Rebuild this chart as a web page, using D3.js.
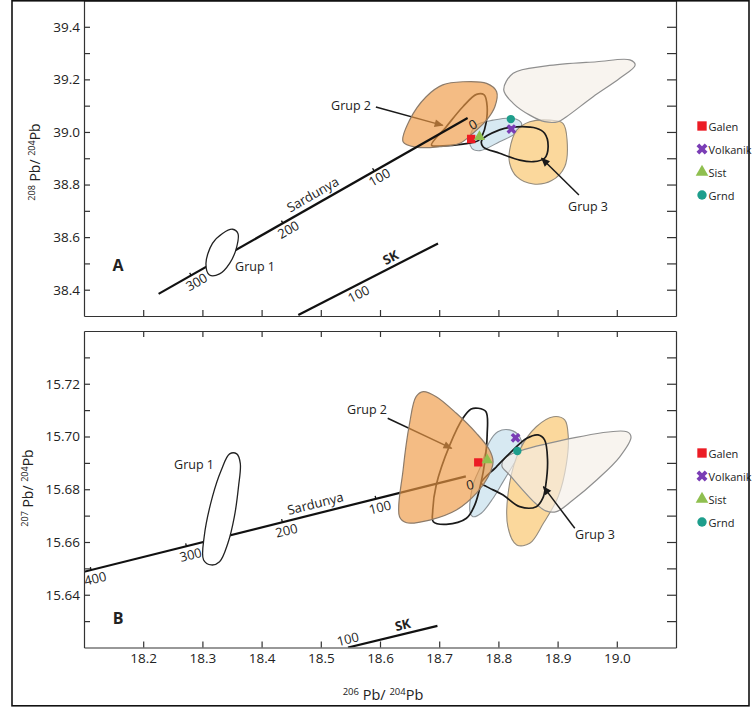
<!DOCTYPE html>
<html><head><meta charset="utf-8">
<script src="https://cdn.jsdelivr.net/npm/d3@7"></script>
<style>
html,body{margin:0;padding:0;background:#fff;}
text{font-family:"Open Sans","Noto Sans",sans-serif;fill:#222;}
</style></head><body>
<svg id="chart" width="754" height="709"></svg>
<script>
// ---------------- DATA ----------------
const xTicks = [18.2, 18.3, 18.4, 18.5, 18.6, 18.7, 18.8, 18.9, 19.0];
const yTicksA = [38.4, 38.5, 38.6, 38.7, 38.8, 38.9, 39.0, 39.1, 39.2, 39.3, 39.4];
const yLabelsA = [38.4, 38.6, 38.8, 39.0, 39.2, 39.4];
const yTicksB = [15.63, 15.64, 15.65, 15.66, 15.67, 15.68, 15.69, 15.70, 15.71, 15.72, 15.73];
const yLabelsB = [15.64, 15.66, 15.68, 15.70, 15.72];

const seriesNames = ["Galen", "Volkanik", "Sist", "Grnd"];
const sampleXA = [18.754, 18.822, 18.768, 18.821];
const sampleYA = [38.973, 39.011, 38.982, 39.049];
const sampleXB = [18.766, 18.829, 18.781, 18.832];
const sampleYB = [15.6902, 15.6995, 15.6911, 15.6945];

// Sardunya growth curve (age labels in Ma)
const sardAgesA = [300, 200, 100, 0];
const sardXA = [18.281, 18.436, 18.590, 18.748];
const sardYA = [38.454, 38.653, 38.852, 39.053];
const sardEndsA = [[18.226, 38.384], [18.748, 39.053]];
const sardAgesB = [400, 300, 200, 100, 0];
const sardXB = [18.112, 18.273, 18.435, 18.593, 18.745];
const sardYB = [15.6494, 15.6584, 15.6676, 15.6764, 15.6849];
const sardEndsB = [[18.10, 15.6487], [18.745, 15.6849]];
// SK growth curve
const skEndsA = [[18.462, 38.304], [18.698, 38.576]];
const skEndsB = [[18.546, 15.6200], [18.697, 15.6282]];

// Fields, panel A (208/204 vs 206/204)
const grup1A = [[18.306,38.500],[18.317,38.576],[18.334,38.614],[18.351,38.630],[18.360,38.614],[18.358,38.563],[18.346,38.500],[18.329,38.460],[18.312,38.456]];
const grup2FieldA = [[18.639,38.963],[18.650,39.045],[18.678,39.134],[18.706,39.179],[18.740,39.191],[18.780,39.185],[18.797,39.153],[18.794,39.096],[18.780,39.045],[18.757,38.995],[18.735,38.957],[18.701,38.944],[18.661,38.942]];
const grup2LoopA = [[18.687,38.950],[18.712,39.020],[18.740,39.096],[18.763,39.143],[18.776,39.141],[18.781,39.096],[18.779,39.033],[18.773,38.988],[18.766,38.967],[18.740,38.954],[18.706,38.947]];
const blueA = [[18.752,38.982],[18.763,39.026],[18.791,39.045],[18.825,39.052],[18.839,39.033],[18.833,39.001],[18.802,38.963],[18.769,38.929],[18.755,38.938]];
const beigeA = [[18.809,39.160],[18.825,39.223],[18.881,39.251],[18.966,39.267],[19.022,39.274],[19.031,39.255],[19.005,39.204],[18.960,39.134],[18.915,39.058],[18.901,39.039],[18.878,39.039],[18.853,39.064],[18.825,39.109]];
const grup3FieldA = [[18.819,38.931],[18.831,39.007],[18.853,39.039],[18.887,39.045],[18.909,39.033],[18.916,38.969],[18.912,38.868],[18.890,38.815],[18.859,38.802],[18.831,38.830],[18.819,38.881]];
const grup3LoopA = [[18.772,38.969],[18.802,39.008],[18.822,39.018],[18.864,39.014],[18.878,38.995],[18.884,38.944],[18.878,38.900],[18.859,38.887],[18.836,38.893],[18.802,38.919],[18.774,38.944]];

// Fields, panel B (207/204 vs 206/204)
const grup1B = [[18.302,15.6532],[18.303,15.6620],[18.317,15.6772],[18.332,15.6873],[18.346,15.6934],[18.358,15.6934],[18.364,15.6898],[18.361,15.6810],[18.354,15.6696],[18.343,15.6595],[18.329,15.6525],[18.315,15.6513]];
const grup2FieldB = [[18.633,15.6696],[18.639,15.6873],[18.650,15.7050],[18.661,15.7151],[18.673,15.7170],[18.695,15.7151],[18.729,15.7088],[18.763,15.7012],[18.785,15.6949],[18.791,15.6904],[18.783,15.6848],[18.763,15.6785],[18.729,15.6721],[18.684,15.6683],[18.645,15.6673]];
const grup2LoopB = [[18.766,15.7107],[18.779,15.7094],[18.781,15.7006],[18.777,15.6904],[18.771,15.6829],[18.760,15.6740],[18.746,15.6690],[18.712,15.6667],[18.690,15.6677],[18.689,15.6715],[18.695,15.6816],[18.718,15.6968],[18.740,15.7069],[18.754,15.7104]];
const blueB = [[18.752,15.6715],[18.757,15.6816],[18.771,15.6892],[18.785,15.6980],[18.799,15.7018],[18.819,15.7025],[18.836,15.6999],[18.839,15.6942],[18.825,15.6892],[18.808,15.6829],[18.791,15.6766],[18.771,15.6709],[18.757,15.6696]];
const beigeB = [[18.811,15.6918],[18.836,15.6945],[19.017,15.7018],[19.024,15.6998],[19.005,15.6923],[18.966,15.6835],[18.926,15.6759],[18.898,15.6715],[18.880,15.6718],[18.862,15.6748],[18.819,15.6854],[18.806,15.6888]];
const grup3FieldB = [[18.816,15.6658],[18.819,15.6823],[18.836,15.6949],[18.864,15.7037],[18.893,15.7075],[18.912,15.7063],[18.918,15.6999],[18.915,15.6898],[18.901,15.6772],[18.876,15.6671],[18.853,15.6595],[18.831,15.6589]];
const grup3LoopB = [[18.771,15.6823],[18.797,15.6886],[18.819,15.6936],[18.848,15.6993],[18.867,15.7006],[18.878,15.6987],[18.883,15.6911],[18.880,15.6816],[18.875,15.6766],[18.864,15.6734],[18.836,15.6734],[18.808,15.6778],[18.780,15.6810]];

// annotation arrows [tail, head]
const arrowsA = [[[18.593,39.095],[18.706,39.025]], [[18.936,38.760],[18.873,38.900]]];
const arrowsB = [[[18.613,15.7069],[18.721,15.6955]], [[18.929,15.6652],[18.876,15.6810]]];

// ---------------- DRAW ----------------
const svg = d3.select("#chart");
const defs = svg.append("defs");
defs.append("marker").attr("id","ah").attr("viewBox","0 -5 10 10").attr("refX",9).attr("refY",0)
  .attr("markerWidth",10).attr("markerHeight",9).attr("markerUnits","userSpaceOnUse").attr("orient","auto")
  .append("path").attr("d","M0,-4.2L10,0L0,4.2Z").attr("fill","#1a1a1a");

const x = d3.scaleLinear().domain([18.1, 19.1]).range([84, 676]);

const colors = {Galen:"#ec1c24", Volkanik:"#7a3db5", Sist:"#8fbf4f", Grnd:"#1e9e8c"};
const symTypes = {Galen:d3.symbolSquare, Volkanik:d3.symbolCross, Sist:d3.symbolTriangle, Grnd:d3.symbolCircle};
const symSizes = {Galen:70, Volkanik:60, Sist:55, Grnd:55};
function drawSymbol(g, name, px, py, scale) {
  g.append("path")
    .attr("d", d3.symbol().type(symTypes[name]).size(symSizes[name]*scale)())
    .attr("transform", `translate(${px},${py})` + (name==="Volkanik" ? " rotate(45)" : ""))
    .attr("fill", colors[name]);
}

function drawPanel(c) {
  const y = c.y;
  const [x0, x1] = x.range();
  const [yb, yt] = y.range();
  const g = svg.append("g");
  defs.append("clipPath").attr("id","clip"+c.id).append("rect")
    .attr("x",x0).attr("y",yt).attr("width",x1-x0).attr("height",yb-yt);
  const plot = g.append("g").attr("clip-path",`url(#clip${c.id})`);
  const blob = d3.line().x(d=>x(d[0])).y(d=>y(d[1])).curve(d3.curveCatmullRomClosed.alpha(0.5));
  const seg = d3.line().x(d=>x(d[0])).y(d=>y(d[1]));

  plot.append("path").attr("d", blob(c.blue)).attr("fill","#d7e9f2").attr("stroke","#8d9499").attr("stroke-width",1.1);
  plot.append("path").attr("d", blob(c.grup3Field)).attr("fill","#fbd491").attr("fill-opacity",0.9).attr("stroke","#948b7c").attr("stroke-width",1.1);
  plot.append("path").attr("d", blob(c.beige)).attr("fill","#f4eee6").attr("fill-opacity",0.65).attr("stroke","#8f8f8f").attr("stroke-width",1.2);
  plot.append("path").attr("d", blob(c.grup3Loop)).attr("fill","none").attr("stroke","#1a1a1a").attr("stroke-width",1.7);
  plot.append("path").attr("d", blob(c.grup2Loop)).attr("fill","none").attr("stroke","#1a1a1a").attr("stroke-width",1.7);
  c.arrows.forEach(a => {
    plot.append("path").attr("d", seg(a)).attr("stroke","#1a1a1a").attr("stroke-width",1.5).attr("fill","none").attr("marker-end","url(#ah)");
  });

  const drawSard = () => plot.append("path").attr("d", seg(c.sardEnds)).attr("stroke","#111").attr("stroke-width",2.2).attr("fill","none");
  if (!c.sardAbove) drawSard();
  plot.append("path").attr("d", blob(c.grup2Field)).attr("fill","#ee9a45").attr("fill-opacity",0.66).attr("stroke","#8c7b6a").attr("stroke-width",1.2);
  if (c.sardAbove) drawSard();
  plot.append("path").attr("d", seg(c.skEnds)).attr("stroke","#111").attr("stroke-width",2.2).attr("fill","none");
  plot.append("path").attr("d", blob(c.grup1)).attr("fill","#fff").attr("stroke","#222").attr("stroke-width",1.3);

  // Sardunya ticks & labels
  const [[ax,ay],[bx,by]] = c.sardEnds;
  const pax = x(ax), pay = y(ay), pbx = x(bx), pby = y(by);
  const L = Math.hypot(pbx-pax, pby-pay);
  const ux = (pbx-pax)/L, uy = (pby-pay)/L, nx = -uy, ny = ux;
  const ang = Math.atan2(pby-pay, pbx-pax) * 180 / Math.PI;
  c.sardAges.forEach((age, i) => {
    const px = x(c.sardX[i]), py = y(c.sardY[i]);
    if (age !== 0) plot.append("line").attr("x1",px).attr("y1",py).attr("x2",px-nx*3).attr("y2",py-ny*3).attr("stroke","#111").attr("stroke-width",1.3);
    const lx = px + ux*c.ageAlong + nx*c.ageOff, ly = py + uy*c.ageAlong + ny*c.ageOff;
    g.append("text").attr("transform",`translate(${lx},${ly}) rotate(${ang})`).attr("text-anchor","middle")
      .attr("dominant-baseline","central").attr("font-size",13).text(age);
  });
  // Sardunya name
  const onLine = (ends, xv) => ends[0][1] + (ends[1][1]-ends[0][1])*(xv-ends[0][0])/(ends[1][0]-ends[0][0]);
  {
    const px = x(c.sardNameX), py = y(onLine(c.sardEnds, c.sardNameX));
    g.append("text").attr("transform",`translate(${px-nx*10.5},${py-ny*10.5}) rotate(${ang})`).attr("text-anchor","middle")
      .attr("dominant-baseline","central").attr("font-size",13).text("Sardunya");
  }
  // SK labels
  {
    const [[sx0,sy0],[sx1,sy1]] = c.skEnds;
    const ang2 = Math.atan2(y(sy1)-y(sy0), x(sx1)-x(sx0)) * 180/Math.PI;
    const L2 = Math.hypot(x(sx1)-x(sx0), y(sy1)-y(sy0));
    const vx = (x(sx1)-x(sx0))/L2, vy = (y(sy1)-y(sy0))/L2, mx = -vy, my = vx;
    const p1x = x(c.skNameX), p1y = y(onLine(c.skEnds, c.skNameX));
    g.append("text").attr("transform",`translate(${p1x-mx*9.5},${p1y-my*9.5}) rotate(${ang2})`).attr("text-anchor","middle")
      .attr("dominant-baseline","central").attr("font-size",13).attr("font-weight","bold").text("SK");
    const p2x = x(c.sk100X), p2y = y(onLine(c.skEnds, c.sk100X));
    const s = c.sk100Below ? 1 : -1;
    g.append("text").attr("transform",`translate(${p2x+s*mx*8.5},${p2y+s*my*8.5}) rotate(${ang2})`).attr("text-anchor","middle")
      .attr("dominant-baseline","central").attr("font-size",13).text("100");
  }

  // samples
  seriesNames.forEach((n,i) => drawSymbol(plot, n, x(c.sampleX[i]), y(c.sampleY[i]), 1));

  // group labels
  c.groupLabels.forEach(l => g.append("text").attr("x",l[1]).attr("y",l[2]).attr("text-anchor","middle")
    .attr("dominant-baseline","central").attr("font-size",12.5).text(l[0]));
  g.append("text").attr("x",c.panelPos[0]).attr("y",c.panelPos[1]).attr("text-anchor","middle").attr("dominant-baseline","central")
    .attr("font-size",16).attr("font-weight","bold").attr("font-family","Liberation Sans, Arial, sans-serif").text(c.id);

  // axes
  const fmt = d3.format(c.fmt);
  const isLab = d => c.yLabels.some(v => Math.abs(v-d) < 1e-6);
  const ax1 = g.append("g").attr("transform",`translate(${x0},0)`)
    .call(d3.axisLeft(y).tickValues(c.yTicks).tickSize(-6).tickSizeOuter(0).tickPadding(4).tickFormat(d => isLab(d) ? fmt(d) : ""));
  const ax2 = g.append("g").attr("transform",`translate(${x1},0)`)
    .call(d3.axisRight(y).tickValues(c.yTicks).tickSize(-9).tickSizeOuter(0).tickFormat(""));
  const ax3 = g.append("g").attr("transform",`translate(0,${yb})`)
    .call(d3.axisBottom(x).tickValues(xTicks).tickSize(-6).tickSizeOuter(0).tickPadding(6).tickFormat(c.xLabels ? d3.format(".1f") : ""));
  const ax4 = g.append("g").attr("transform",`translate(0,${yt})`)
    .call(d3.axisTop(x).tickValues(c.topTicks ? xTicks : []).tickSize(-6).tickSizeOuter(0).tickFormat(""));
  [ax1,ax2,ax3,ax4].forEach(a => {
    a.selectAll("path,line").attr("stroke","#333").attr("stroke-width",1.2);
    a.selectAll("text").attr("font-size",13.5).attr("fill","#333").attr("font-family","Open Sans, sans-serif");
  });

  // axis title
  const t = g.append("text").attr("transform",`translate(${c.titlePos[0]},${c.titlePos[1]}) rotate(-90)`)
    .attr("text-anchor","middle").attr("font-size",14);
  t.append("tspan").attr("font-size",9).attr("dy",-5).text(c.sup);
  t.append("tspan").attr("dy",5).text("\u00a0Pb/\u00a0");
  t.append("tspan").attr("font-size",9).attr("dy",-5).text("204");
  t.append("tspan").attr("dy",5).text("Pb");

  // legend
  seriesNames.forEach((n,i) => {
    const yy = c.legendY + i*23;
    drawSymbol(svg, n, 702, yy, 1.25);
    svg.append("text").attr("x",708.5).attr("y",yy).attr("dominant-baseline","central").attr("font-size",11).text(n);
  });
}

drawPanel({
  id:"A", y: d3.scaleLinear().domain([38.3, 39.5]).range([316, 0.5]),
  yTicks: yTicksA, yLabels: yLabelsA, fmt: ".1f", xLabels: false, topTicks: false,
  blue: blueA, beige: beigeA, grup3Field: grup3FieldA, grup3Loop: grup3LoopA, grup2Field: grup2FieldA, grup2Loop: grup2LoopA, grup1: grup1A,
  arrows: arrowsA, sardEnds: sardEndsA, sardAges: sardAgesA, sardX: sardXA, sardY: sardYA, sardAbove: true,
  ageOff: 8, ageAlong: 1.5, sardNameX: 18.495,
  skEnds: skEndsA, skNameX: 18.625, sk100X: 18.557, sk100Below: true,
  sampleX: sampleXA, sampleY: sampleYA,
  groupLabels: [["Grup 1",255,266],["Grup 2",351,105],["Grup 3",588,206]],
  panelPos: [118,265], titlePos: [40,162], sup: "208", legendY: 126
});
drawPanel({
  id:"B", y: d3.scaleLinear().domain([15.62, 15.74]).range([647.5, 331]),
  yTicks: yTicksB, yLabels: yLabelsB, fmt: ".2f", xLabels: true, topTicks: true,
  blue: blueB, beige: beigeB, grup3Field: grup3FieldB, grup3Loop: grup3LoopB, grup2Field: grup2FieldB, grup2Loop: grup2LoopB, grup1: grup1B,
  arrows: arrowsB, sardEnds: sardEndsB, sardAges: sardAgesB, sardX: sardXB, sardY: sardYB, sardAbove: false,
  ageOff: 9, ageAlong: 2, sardNameX: 18.495,
  skEnds: skEndsB, skNameX: 18.642, sk100X: 18.549, sk100Below: false,
  sampleX: sampleXB, sampleY: sampleYB,
  groupLabels: [["Grup 1",194,464],["Grup 2",367,409],["Grup 3",595,534]],
  panelPos: [118,618], titlePos: [33,488], sup: "207", legendY: 453
});

// x axis title
{
  const t = svg.append("text").attr("x",383).attr("y",700).attr("text-anchor","middle").attr("font-size",14.5);
  t.append("tspan").attr("font-size",9.5).attr("dy",-5).text("206");
  t.append("tspan").attr("dy",5).text("\u00a0Pb/\u00a0");
  t.append("tspan").attr("font-size",9.5).attr("dy",-5).text("204");
  t.append("tspan").attr("dy",5).text("Pb");
}
// outer frame
svg.append("rect").attr("x",12).attr("y",0.8).attr("width",737).attr("height",705)
  .attr("fill","none").attr("stroke","#111").attr("stroke-width",1.6);
</script></body></html>
